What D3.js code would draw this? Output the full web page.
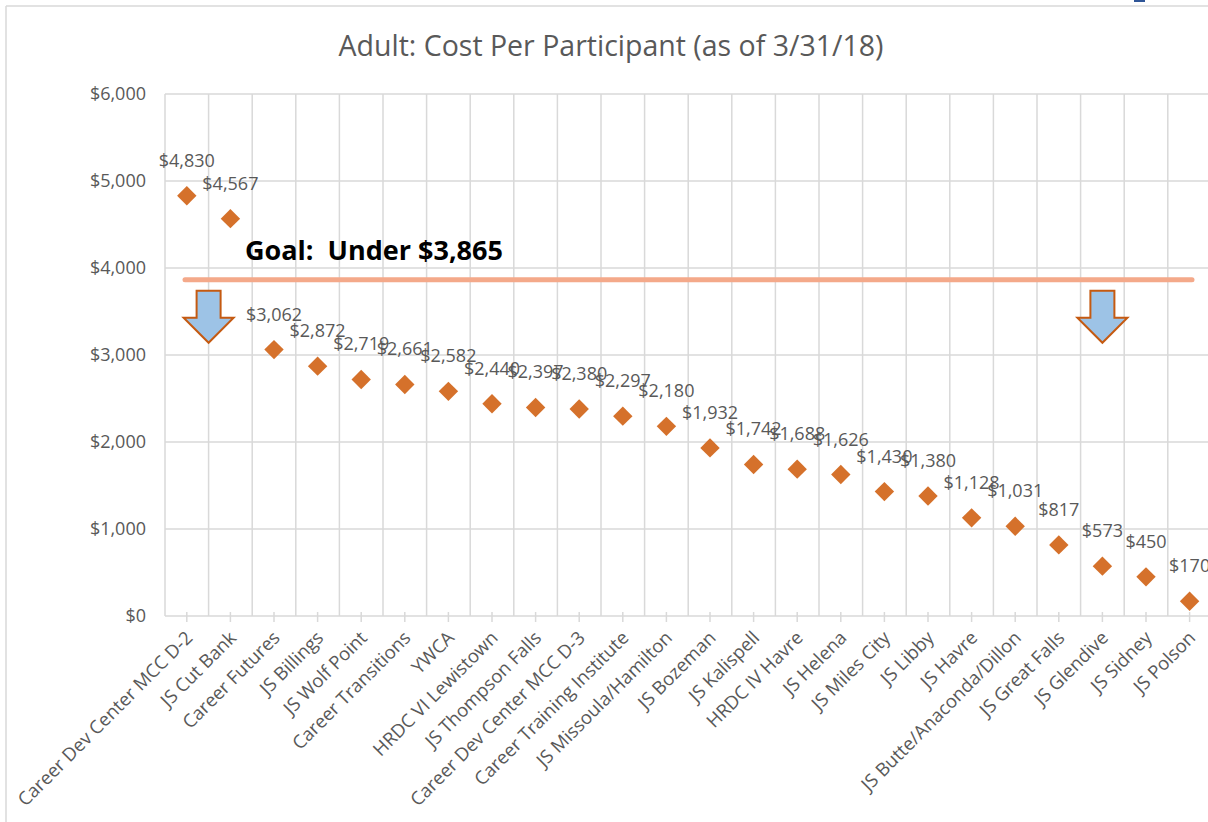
<!DOCTYPE html>
<html>
<head>
<meta charset="utf-8">
<script src="https://cdn.jsdelivr.net/npm/d3@7"></script>
<style>
  body { margin: 0; background: #fff; }
  text { font-family: "Open Sans", sans-serif; }
</style>
</head>
<body>
<svg id="chart" width="1208" height="822"></svg>
<script>
var categories = ["Career Dev Center MCC D-2", "JS Cut Bank", "Career Futures", "JS Billings",
  "JS Wolf Point", "Career Transitions", "YWCA", "HRDC VI Lewistown", "JS Thompson Falls",
  "Career Dev Center MCC D-3", "Career Training Institute", "JS Missoula/Hamilton", "JS Bozeman",
  "JS Kalispell", "HRDC IV Havre", "JS Helena", "JS Miles City", "JS Libby", "JS Havre",
  "JS Butte/Anaconda/Dillon", "JS Great Falls", "JS Glendive", "JS Sidney", "JS Polson"];
var costs = [4830, 4567, 3062, 2872, 2719, 2661, 2582, 2440, 2397, 2380, 2297, 2180, 1932,
  1742, 1688, 1626, 1430, 1380, 1128, 1031, 817, 573, 450, 170];
var yTicks = [0, 1000, 2000, 3000, 4000, 5000, 6000];
var goal = 3865;
var arrowAt = ["Career Dev Center MCC D-2", "JS Glendive"];

var svg = d3.select("#chart");
var grid = "#D9D9D9", grey = "#595959";

var x = d3.scaleBand().domain(categories).range([165, 165 + 24 * 43.6]).padding(0);
var y = d3.scaleLinear().domain([0, 6000]).range([616, 94]);
var fmt = function(v) { return "$" + d3.format(",")(v); };

// chart border
svg.append("line").attr("x1", 6).attr("x2", 1208).attr("y1", 6).attr("y2", 6)
  .attr("stroke", grid).attr("stroke-width", 1.5);
svg.append("line").attr("x1", 6).attr("x2", 6).attr("y1", 6).attr("y2", 822)
  .attr("stroke", grid).attr("stroke-width", 1.5);
svg.append("rect").attr("x", 1134).attr("y", 0).attr("width", 11).attr("height", 2).attr("fill", "#2F5597");

// title
svg.append("text").attr("x", 611).attr("y", 56).attr("text-anchor", "middle")
  .attr("font-size", 28.5).attr("fill", grey).text("Adult: Cost Per Participant (as of 3/31/18)");

// horizontal grid
svg.append("g").selectAll("line").data(yTicks).enter().append("line")
  .attr("x1", 165).attr("x2", 1208)
  .attr("y1", function(d) { return y(d); }).attr("y2", function(d) { return y(d); })
  .attr("stroke", grid).attr("stroke-width", 1.5);

// vertical grid at category boundaries
svg.append("g").selectAll("line").data(categories).enter().append("line")
  .attr("x1", function(d) { return x(d); }).attr("x2", function(d) { return x(d); })
  .attr("y1", y(6000)).attr("y2", y(0))
  .attr("stroke", grid).attr("stroke-width", 1.5);

// tick marks
svg.append("g").selectAll("line").data(categories).enter().append("line")
  .attr("x1", function(d) { return x(d) + x.bandwidth() / 2; })
  .attr("x2", function(d) { return x(d) + x.bandwidth() / 2; })
  .attr("y1", y(0) - 4).attr("y2", y(0) + 6)
  .attr("stroke", grid).attr("stroke-width", 1.5);

// y labels
svg.append("g").selectAll("text").data(yTicks).enter().append("text")
  .attr("x", 146).attr("y", function(d) { return y(d); }).attr("dy", "0.35em")
  .attr("text-anchor", "end").attr("font-size", 18).attr("fill", grey)
  .text(fmt);

// x labels
svg.append("g").selectAll("text").data(categories).enter().append("text")
  .attr("text-anchor", "end").attr("font-size", 18.5).attr("fill", grey)
  .attr("transform", function(d) {
    return "translate(" + (x(d) + x.bandwidth() / 2 + 7) + "," + (y(0) + 23) + ") rotate(-45)";
  })
  .text(function(d) { return d; });

// goal line
svg.append("line").attr("x1", 185).attr("x2", 1192)
  .attr("y1", y(goal)).attr("y2", y(goal))
  .attr("stroke", "#F4A98A").attr("stroke-width", 5).attr("stroke-linecap", "round");
svg.append("text").attr("x", 245).attr("y", y(goal) - 20)
  .attr("font-size", 27).attr("font-weight", "bold").attr("fill", "#000")
  .style("white-space", "pre")
  .text("Goal:  Under " + fmt(goal));

// arrows
var arrowX = [x(arrowAt[0]) + x.bandwidth(), x(arrowAt[1]) + x.bandwidth() / 2];
svg.append("g").selectAll("path").data(arrowX).enter().append("path")
  .attr("d", function(cx) {
    var t = y(goal) + 11;
    return "M" + (cx - 12) + "," + t + "H" + (cx + 12) + "V" + (t + 27) + "H" + (cx + 25) +
      "L" + cx + "," + (t + 52) + "L" + (cx - 25) + "," + (t + 27) + "H" + (cx - 12) + "Z";
  })
  .attr("fill", "#9DC3E6").attr("stroke", "#C55A11").attr("stroke-width", 2);

// markers
svg.append("g").selectAll("path").data(costs).enter().append("path")
  .attr("d", d3.symbol().type(d3.symbolDiamond2).size(240))
  .attr("transform", function(d, i) {
    return "translate(" + (x(categories[i]) + x.bandwidth() / 2) + "," + y(d) + ")";
  })
  .attr("fill", "#D5712B");

// data labels
svg.append("g").selectAll("text").data(costs).enter().append("text")
  .attr("x", function(d, i) { return x(categories[i]) + x.bandwidth() / 2; })
  .attr("y", function(d) { return y(d) - 29; })
  .attr("text-anchor", "middle").attr("font-size", 18).attr("fill", grey)
  .text(fmt);
</script>
</body>
</html>
